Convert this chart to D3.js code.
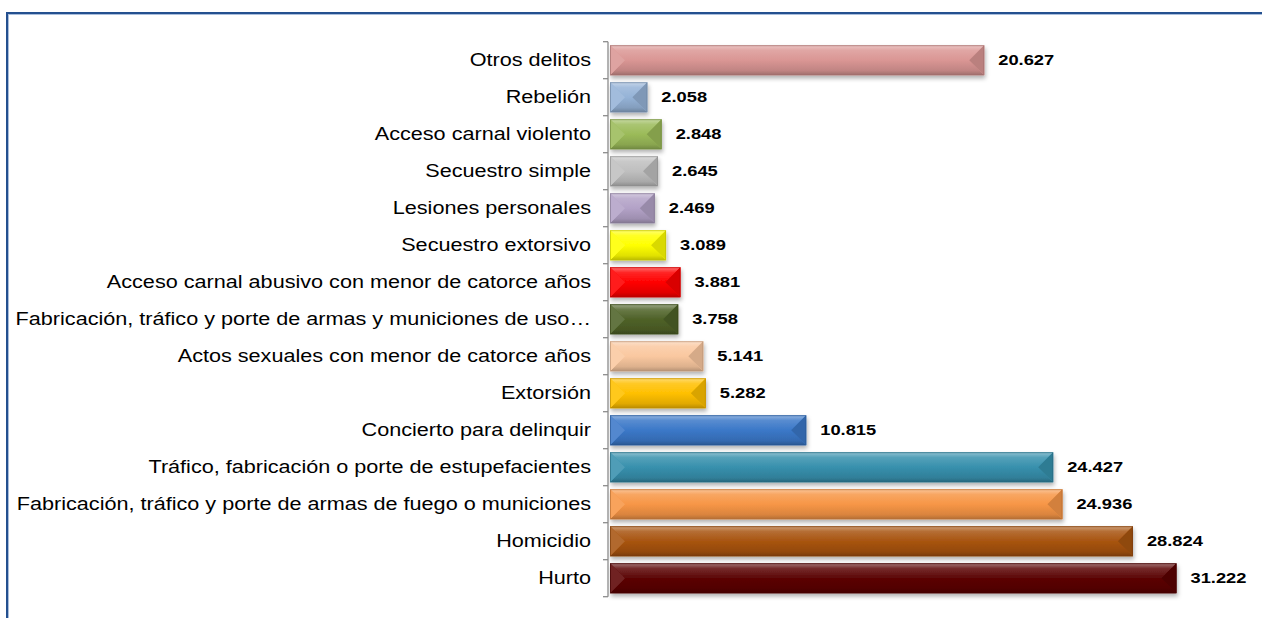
<!DOCTYPE html>
<html>
<head>
<meta charset="utf-8">
<script src="https://cdn.jsdelivr.net/npm/d3@7"></script>
<style>
  body { margin: 0; background: #fff; }
  svg { display: block; }
</style>
</head>
<body>
<svg id="chart" width="1262" height="618"></svg>
<script>
var categories = [
    "Otros delitos",
    "Rebelión",
    "Acceso carnal violento",
    "Secuestro simple",
    "Lesiones personales",
    "Secuestro extorsivo",
    "Acceso carnal abusivo con menor de catorce años",
    "Fabricación, tráfico y porte de armas y municiones de uso…",
    "Actos sexuales con menor de catorce años",
    "Extorsión",
    "Concierto para delinquir",
    "Tráfico, fabricación o porte de estupefacientes",
    "Fabricación, tráfico y porte de armas de fuego o municiones",
    "Homicidio",
    "Hurto"
];
var values = [20.627, 2.058, 2.848, 2.645, 2.469, 3.089, 3.881, 3.758, 5.141, 5.282, 10.815, 24.427, 24.936, 28.824, 31.222];
var valueLabels = ["20.627", "2.058", "2.848", "2.645", "2.469", "3.089", "3.881", "3.758", "5.141", "5.282", "10.815", "24.427", "24.936", "28.824", "31.222"];
var barColors = [
    "#da9694", "#95b3d7", "#9bbb59", "#bfbfbf", "#b3a2c7",
    "#ffff00", "#ff0000", "#4f6228", "#fac8a0", "#ffc000",
    "#3b78c8", "#3790ad", "#f79646", "#a85410", "#5c0606"
];

var svg = d3.select("#chart");
var axisX = 608;

// frame
svg.append("rect")
    .attr("x", 7).attr("y", 13)
    .attr("width", 1300).attr("height", 700)
    .attr("fill", "none")
    .attr("stroke", "#24508f")
    .attr("stroke-width", 2);
svg.append("rect")
    .attr("x", 8.5).attr("y", 14.5)
    .attr("width", 1300).attr("height", 700)
    .attr("fill", "none")
    .attr("stroke", "#a9bedc")
    .attr("stroke-width", 1);

var x = d3.scaleLinear().domain([0, 35]).range([610, 1245]);
var y = d3.scaleBand().domain(categories).range([41.7, 596.7]).paddingInner(0.19).paddingOuter(0.095);

var defs = svg.append("defs");
var filt = defs.append("filter").attr("id", "shadow")
    .attr("x", "-10%").attr("y", "-20%").attr("width", "130%").attr("height", "160%");
filt.append("feDropShadow")
    .attr("dx", 1).attr("dy", 3).attr("stdDeviation", 2)
    .attr("flood-color", "#000").attr("flood-opacity", 0.3);

categories.forEach(function(c, i) {
    var base = d3.rgb(barColors[i]);
    var g = defs.append("linearGradient").attr("id", "gt" + i)
        .attr("x1", 0).attr("y1", 0).attr("x2", 0).attr("y2", 1);
    g.append("stop").attr("offset", "0%").attr("stop-color", d3.interpolateRgb(base, "#fff")(0.45));
    g.append("stop").attr("offset", "35%").attr("stop-color", d3.interpolateRgb(base, "#fff")(0.15));
    g.append("stop").attr("offset", "100%").attr("stop-color", base.toString());
    var g2 = defs.append("linearGradient").attr("id", "gb" + i)
        .attr("x1", 0).attr("y1", 0).attr("x2", 0).attr("y2", 1);
    g2.append("stop").attr("offset", "0%").attr("stop-color", base.toString());
    g2.append("stop").attr("offset", "70%").attr("stop-color", base.darker(0.35).toString());
    g2.append("stop").attr("offset", "100%").attr("stop-color", base.darker(0.9).toString());
});

var bars = svg.append("g").selectAll("g.bar")
    .data(categories)
    .join("g")
    .attr("class", "bar")
    .attr("filter", "url(#shadow)");

bars.each(function(c, i) {
    var gg = d3.select(this);
    var base = d3.rgb(barColors[i]);
    var x0 = x(0), x1 = x(values[i]);
    var y0 = y(c), y1 = y(c) + y.bandwidth();
    var ym = (y0 + y1) / 2;
    var b = Math.min(y.bandwidth() / 2, (x1 - x0) / 2);
    gg.append("rect")
        .attr("x", x0).attr("y", y0)
        .attr("width", x1 - x0).attr("height", y1 - y0)
        .attr("fill", base.toString());
    // top face
    gg.append("polygon")
        .attr("points", [[x0, y0], [x1, y0], [x1 - b, ym], [x0 + b, ym]].join(" "))
        .attr("fill", "url(#gt" + i + ")");
    // bottom face
    gg.append("polygon")
        .attr("points", [[x0 + b, ym], [x1 - b, ym], [x1, y1], [x0, y1]].join(" "))
        .attr("fill", "url(#gb" + i + ")");
    // left face
    gg.append("polygon")
        .attr("points", [[x0, y0], [x0 + b, ym], [x0, y1]].join(" "))
        .attr("fill", d3.interpolateRgb(base, "#fff")(0.12));
    // right face
    gg.append("polygon")
        .attr("points", [[x1, y0], [x1 - b, ym], [x1, y1]].join(" "))
        .attr("fill", base.darker(0.45).toString());
    gg.append("rect")
        .attr("x", x0 + 0.5).attr("y", y0 + 0.5)
        .attr("width", x1 - x0 - 1).attr("height", y1 - y0 - 1)
        .attr("fill", "none")
        .attr("stroke", base.darker(0.8).toString())
        .attr("stroke-opacity", 0.7)
        .attr("stroke-width", 1);
});

// category axis
var axis = svg.append("g")
    .attr("transform", "translate(" + axisX + ",0)")
    .call(d3.axisLeft(y).tickSize(0).tickPadding(17));
axis.select(".domain").remove();
axis.selectAll("text")
    .attr("font-family", "Liberation Sans, Arial, sans-serif")
    .attr("font-size", 17.5)
    .attr("fill", "#000")
    .each(function() {
        // the reference text is wider than plain Arial
        var len = this.getComputedTextLength();
        d3.select(this).attr("textLength", len * 1.235).attr("lengthAdjust", "spacingAndGlyphs");
    });

svg.append("line")
    .attr("x1", axisX).attr("x2", axisX)
    .attr("y1", 41.7).attr("y2", 596.7)
    .attr("stroke", "#8c8c8c").attr("stroke-width", 1.3);

var bounds = d3.range(categories.length + 1).map(function(k) { return 41.7 + k * y.step(); });
svg.append("g").selectAll("line")
    .data(bounds)
    .join("line")
    .attr("x1", axisX - 5).attr("x2", axisX)
    .attr("y1", function(d) { return d; }).attr("y2", function(d) { return d; })
    .attr("stroke", "#8c8c8c").attr("stroke-width", 1.3);

// value labels
svg.append("g").selectAll("text")
    .data(categories)
    .join("text")
    .attr("x", function(c, i) { return x(values[i]) + 14; })
    .attr("y", function(c) { return y(c) + y.bandwidth() / 2; })
    .attr("dy", "0.35em")
    .attr("font-family", "Liberation Sans, Arial, sans-serif")
    .attr("font-weight", "bold")
    .attr("font-size", 15)
    .attr("fill", "#000")
    .text(function(c, i) { return valueLabels[i]; })
    .each(function() {
        var len = this.getComputedTextLength();
        d3.select(this).attr("textLength", len * 1.22).attr("lengthAdjust", "spacingAndGlyphs");
    });
</script>
</body>
</html>
